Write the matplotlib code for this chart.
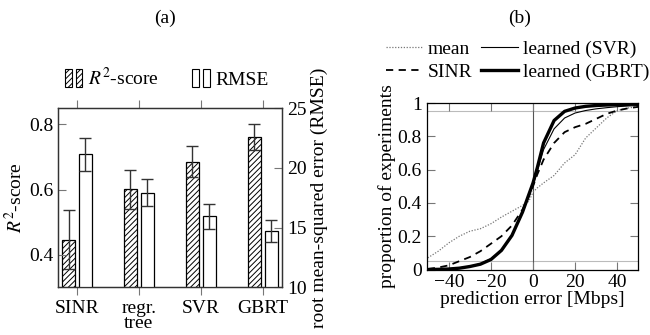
import numpy as np
import matplotlib
matplotlib.use('Agg')
import matplotlib.pyplot as plt
from matplotlib.patches import Rectangle
from matplotlib.legend_handler import HandlerBase

plt.rcParams['font.family'] = ['Liberation Serif', 'DejaVu Serif']
plt.rcParams['mathtext.fontset'] = 'stix'
plt.rcParams['font.size'] = 14
plt.rcParams['hatch.linewidth'] = 0.7

# ---- panel (a) data ----
methods = ['SINR', 'regr.\ntree', 'SVR', 'GBRT']
r2 = [0.446, 0.601, 0.685, 0.760]
r2_lo = [0.355, 0.541, 0.637, 0.721]
r2_hi = [0.536, 0.661, 0.734, 0.800]
rmse = [21.14, 17.92, 15.97, 14.67]
rmse_lo = [19.72, 16.81, 14.86, 13.75]
rmse_hi = [22.53, 19.03, 16.98, 15.64]

# ---- panel (b) data ----
err = [-50, -45, -40, -35, -30, -25, -20, -15, -10, -5, -2, 0, 2, 5, 10, 15, 20, 25, 30, 35, 40, 45, 50]
cdf_mean = [0.07, 0.11, 0.16, 0.20, 0.23, 0.245, 0.275, 0.315, 0.35, 0.385, 0.41, 0.465, 0.49, 0.52,
            0.565, 0.64, 0.69, 0.79, 0.85, 0.91, 0.955, 0.97, 0.978]
cdf_sinr = [0.003, 0.012, 0.025, 0.05, 0.075, 0.11, 0.155, 0.20, 0.265, 0.36, 0.44, 0.50, 0.57, 0.66,
            0.76, 0.825, 0.855, 0.875, 0.905, 0.935, 0.955, 0.968, 0.977]
cdf_svr = [0.0, 0.002, 0.005, 0.01, 0.02, 0.035, 0.065, 0.115, 0.20, 0.34, 0.44, 0.51, 0.59, 0.72,
           0.845, 0.91, 0.94, 0.955, 0.965, 0.972, 0.978, 0.982, 0.985]
cdf_gbrt = [0.0, 0.001, 0.003, 0.008, 0.018, 0.032, 0.06, 0.115, 0.205, 0.345, 0.45, 0.52, 0.61, 0.76,
            0.895, 0.95, 0.97, 0.98, 0.985, 0.988, 0.99, 0.992, 0.995]


class TwoBars(HandlerBase):
    def create_artists(self, legend, orig, x0, y0, w, h, fontsize, trans):
        bw = w * 0.38
        arts = []
        for xx in (x0, x0 + w - bw):
            arts.append(Rectangle((xx, y0 - 0.15 * h), bw, h * 1.3, facecolor='white',
                                  edgecolor='black', hatch=orig.get_hatch(), lw=0.8, transform=trans))
        return arts


fig = plt.figure(figsize=(6.5, 3.35), dpi=100)
tcol = '#777777'

# ---------- (a) ----------
ax = fig.add_axes([0.0897, 0.1424, 0.3441, 0.5352])
ax2 = ax.twinx()
x = np.arange(len(methods))
w = 0.21
d = 0.135
r2 = np.array(r2)
rmse = np.array(rmse)
b1 = ax.bar(x - d, r2, w, color='white', edgecolor='black', hatch='//////', lw=0.9,
            yerr=[r2 - np.array(r2_lo), np.array(r2_hi) - r2], ecolor='#333333',
            error_kw=dict(elinewidth=1.0, capsize=4, capthick=1.0), label=r'$R^2$-score')
b2 = ax2.bar(x + d, rmse, w, color='white', edgecolor='black', lw=0.9,
             yerr=[rmse - np.array(rmse_lo), np.array(rmse_hi) - rmse], ecolor='#333333',
             error_kw=dict(elinewidth=1.0, capsize=4, capthick=1.0), label='RMSE')
ax.set_xlim(-0.3, 3.31)
ax.set_ylim(0.3, 0.85)
ax2.set_ylim(10, 25)
ax.set_xticks(x)
ax.set_xticklabels(methods, linespacing=0.85)
ax.set_yticks([0.4, 0.6, 0.8])
ax2.set_yticks([10, 15, 20, 25])
ax.tick_params(axis='x', direction='out', top=True, length=6, color=tcol, pad=3)
ax.tick_params(axis='y', direction='in', length=6, color=tcol)
ax2.tick_params(axis='y', direction='in', length=6, color=tcol)
ax.set_ylabel(r'$R^2$-score', labelpad=2)
ax2.set_ylabel('root mean-squared error (RMSE)', labelpad=3)
for a in (ax, ax2):
    for s in a.spines.values():
        s.set_linewidth(0.9)
        s.set_color('#333333')
ax.legend([b1.patches[0], b2.patches[0]], [r'$R^2$-score', 'RMSE'],
          handler_map={Rectangle: TwoBars()}, loc='center', bbox_to_anchor=(0.486, 1.167),
          ncol=2, frameon=False, handlelength=0.9, handleheight=0.7, handletextpad=0.3,
          columnspacing=1.7, borderpad=0)

# ---------- (b) ----------
bx = fig.add_axes([0.6565, 0.1955, 0.3255, 0.497])
bx.axhline(0.05, color='#bbbbbb', lw=0.8, zorder=1)
bx.axhline(0.95, color='#bbbbbb', lw=0.8, zorder=1)
bx.axvline(0, color='#555555', lw=0.8, zorder=1)
bx.plot(err, cdf_mean, color='#777777', ls=(0, (1, 1.3)), lw=0.9, label='mean')
bx.plot(err, cdf_sinr, color='black', ls=(0, (4, 3)), lw=1.3, label='SINR')
bx.plot(err, cdf_svr, color='black', lw=0.8, label='learned (SVR)')
bx.plot(err, cdf_gbrt, color='black', lw=2.4, label='learned (GBRT)')
bx.set_xlim(-50.5, 50)
bx.set_ylim(0, 1)
bx.set_xticks([-40, -20, 0, 20, 40])
bx.set_yticks([0, 0.2, 0.4, 0.6, 0.8, 1])
bx.set_yticklabels(['0', '0.2', '0.4', '0.6', '0.8', '1'])
bx.tick_params(direction='in', top=True, right=True, length=6, color=tcol)
bx.set_xlabel('prediction error [Mbps]', labelpad=0)
bx.set_ylabel('proportion of experiments', labelpad=1)
for s in bx.spines.values():
    s.set_linewidth(0.9)
bx.legend(loc='center', bbox_to_anchor=(0.429, 1.255), ncol=2, frameon=False,
          handlelength=1.9, handletextpad=0.26, columnspacing=0.46, labelspacing=0.3, borderpad=0)

fig.text(0.254, 0.946, '(a)', ha='center', va='center')
fig.text(0.80, 0.946, '(b)', ha='center', va='center')

fig.savefig('out.png', dpi=100)
